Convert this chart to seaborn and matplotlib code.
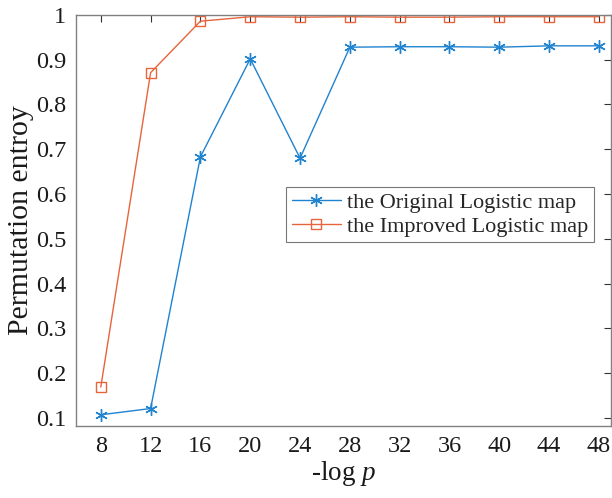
import numpy as np
import pandas as pd
import matplotlib
matplotlib.use("Agg")
import matplotlib.pyplot as plt
import seaborn as sns

x_vals = [8, 12, 16, 20, 24, 28, 32, 36, 40, 44, 48]
original = [0.107, 0.121, 0.683, 0.902, 0.680, 0.928, 0.929, 0.929, 0.928, 0.931, 0.931]
improved = [0.169, 0.871, 0.986, 0.996, 0.995, 0.996, 0.995, 0.995, 0.996, 0.996, 0.996]
series_names = ["the Original Logistic map", "the Improved Logistic map"]
y_ticks = [0.1, 0.2, 0.3, 0.4, 0.5, 0.6, 0.7, 0.8, 0.9, 1]
y_tick_labels = ["0.1", "0.2", "0.3", "0.4", "0.5", "0.6", "0.7", "0.8", "0.9", "1"]

sns.set_style("white")
plt.rcParams['font.family'] = ['Liberation Serif', 'DejaVu Serif']
plt.rcParams['mathtext.fontset'] = 'custom'
plt.rcParams['mathtext.it'] = 'Liberation Serif:italic'
plt.rcParams['mathtext.rm'] = 'Liberation Serif'

df = pd.DataFrame({
    "x": x_vals * 2,
    "y": original + improved,
    "series": [series_names[0]] * len(x_vals) + [series_names[1]] * len(x_vals),
})

fig = plt.figure(figsize=(6.12, 4.98), dpi=100)
ax = fig.add_axes([0.124, 0.1446, 0.875, 0.8254])

blue = "#1f83d0"
orange = "#e8643a"
sns.lineplot(data=df[df.series == series_names[0]], x="x", y="y", ax=ax,
             color=blue, linewidth=1.0, marker=(6, 2, 0), markersize=9,
             markeredgecolor=blue, markeredgewidth=1.0, label=series_names[0])
sns.lineplot(data=df[df.series == series_names[1]], x="x", y="y", ax=ax,
             color=orange, linewidth=1.0, marker="s", markersize=7,
             markerfacecolor="none", markeredgecolor=orange, markeredgewidth=1.0,
             label=series_names[1])

ax.set_xlim(6, 49)
ax.set_ylim(0.082, 1.0)
ax.set_xticks(x_vals)
ax.set_xticklabels([str(v) for v in x_vals])
ax.set_yticks(y_ticks)
ax.set_yticklabels(y_tick_labels)
ax.tick_params(direction="in", length=5, width=0.8, colors="#333333",
               labelsize=17.5, labelcolor="#1a1a1a", top=True, right=True,
               labeltop=False, labelright=False, pad=7)
for s in ax.spines.values():
    s.set_color("#808080")
    s.set_linewidth(1.0)
    s.set_visible(True)
ax.set_xlabel(r"-log $p$", fontsize=19.5, color="#1a1a1a", labelpad=2)
ax.set_ylabel("Permutation entroy", fontsize=21.5, color="#1a1a1a", labelpad=1)

leg = ax.legend(loc="upper left", bbox_to_anchor=(0.3925, 0.582), fontsize=16,
                frameon=True, fancybox=False, edgecolor="#555555",
                handlelength=2.2, handletextpad=0.3, borderpad=0.25,
                labelspacing=0.15, borderaxespad=0)
leg.get_frame().set_linewidth(0.8)

fig.savefig("out.png", dpi=100)
